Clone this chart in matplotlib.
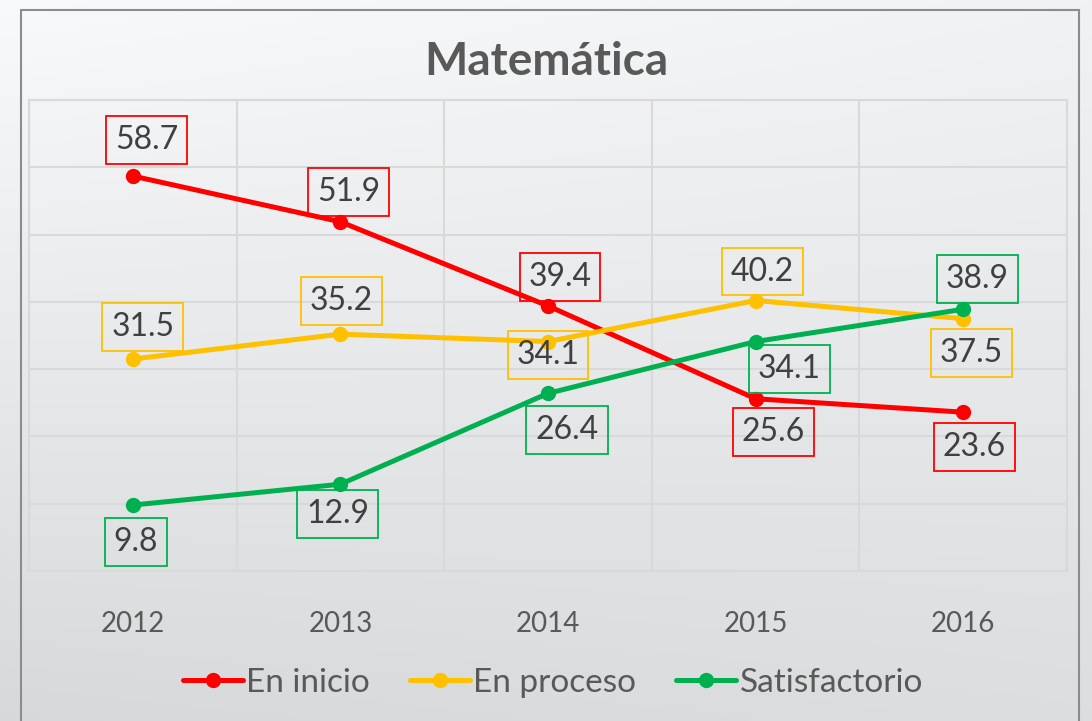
import numpy as np
import matplotlib
matplotlib.use('Agg')
import matplotlib.pyplot as plt
from matplotlib.patches import Rectangle

years = ['2012', '2013', '2014', '2015', '2016']
en_inicio = [58.7, 51.9, 39.4, 25.6, 23.6]
en_proceso = [31.5, 35.2, 34.1, 40.2, 37.5]
satisfactorio = [9.8, 12.9, 26.4, 34.1, 38.9]
series_names = ['En inicio', 'En proceso', 'Satisfactorio']

plt.rcParams['font.family'] = ['Lato', 'DejaVu Sans']

fig = plt.figure(figsize=(10.92, 7.21), dpi=100)

# background gradient
bg = fig.add_axes([0, 0, 1, 1], zorder=-10)
yy, xx = np.mgrid[0:1:200j, 0:1:200j]
shade = 0.975 - 0.13 * yy - 0.03 * xx * (1 - yy) + 0.02 * xx * yy
bg.imshow(np.dstack([shade, shade + 0.004, shade + 0.008]).clip(0, 1), aspect='auto',
          extent=[0, 1, 0, 1], origin='upper')
bg.set_xlim(0, 1)
bg.set_ylim(0, 1)
bg.axis('off')
# outer frame
fig.patches.append(Rectangle((21 / 1092, -0.05), (1079 - 21) / 1092, 1.05 - 10 / 721,
                             transform=fig.transFigure, fill=False, edgecolor='#8c8c8c',
                             linewidth=1.5))

ax = fig.add_axes([29 / 1092, 1 - 571 / 721, (1067 - 29) / 1092, (571 - 100) / 721])
ax.set_facecolor('none')
x = np.arange(len(years))

colors = ['#ff0000', '#ffc000', '#00b050']
data = [en_inicio, en_proceso, satisfactorio]
# label offsets in pixels (dx, dy up)
offsets = [
    [(14, 36), (8, 30), (12, 29), (18, -33), (11, -35)],
    [(10, 32), (1, 33), (0, -13), (7, 29), (8, -34)],
    [(3, -37), (-3, -30), (19, -37), (34, -27), (14, 30)],
]
for vals, c, name, offs in zip(data, colors, series_names, offsets):
    ax.plot(x, vals, color=c, lw=3.6, marker='o', ms=10, label=name, zorder=3,
            solid_capstyle='round')
    for xi, v, (dx, dy) in zip(x, vals, offs):
        ax.annotate(f'{v:.1f}', (xi, v), xytext=(dx, dy), textcoords='offset pixels',
                    ha='center', va='center', fontsize=23, color='#404040', zorder=4,
                    bbox=dict(boxstyle='square,pad=0.28', fc='none', ec=c, lw=1.3))

ax.set_xlim(-0.5, 4.5)
ax.set_ylim(0, 70)
ax.set_yticks(np.arange(0, 71, 10))
ax.set_yticklabels([])
ax.set_xticks(np.arange(-0.5, 4.6, 1), minor=False)
ax.set_xticklabels([])
ax.set_xticks(x, minor=True)
ax.set_xticklabels(years, minor=True, fontsize=20, color='#595959')
ax.tick_params(axis='x', which='minor', length=0, pad=29)
ax.tick_params(axis='both', which='major', length=0)
ax.grid(True, which='major', color='#d9d9d9', lw=1.5)
for s in ax.spines.values():
    s.set_color('#d9d9d9')
    s.set_linewidth(1.5)

fig.text(0.5, 1 - 62 / 721, 'Matemática', ha='center', va='center', fontsize=33,
         fontweight='bold', color='#595959')

leg = fig.legend(loc='center', bbox_to_anchor=(553 / 1092, 1 - 683 / 721), ncol=3,
                 frameon=False, fontsize=24, handlelength=1.8, handletextpad=0.1,
                 columnspacing=1.2, labelcolor='#595959')

fig.savefig('out.png', dpi=100)
